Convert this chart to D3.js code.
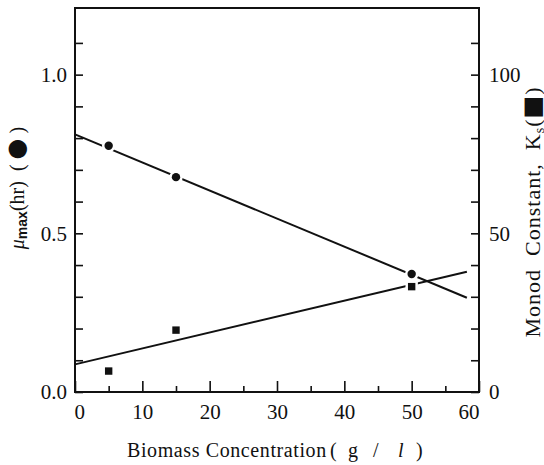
<!DOCTYPE html>
<html>
<head>
<meta charset="utf-8">
<script src="https://cdn.jsdelivr.net/npm/d3@7"></script>
<style>
  body { margin: 0; background: #fff; }
  svg text { font-family: "Liberation Serif", "Times New Roman", serif; fill: #111; }
</style>
</head>
<body>
<div id="chart"></div>
<script>

// points
var muX    = [5, 15, 50];
var muMax  = [0.776, 0.677, 0.372];
var ksX    = [5, 15, 50];
var ksVals = [6.6, 19.5, 33.2];

// straight fitted lines (end points)
var fitX  = [0, 58.2];
var muFit = [0.812, 0.297];
var ksFit = [8.7, 37.9];

// ticks
var xMajor   = [0, 10, 20, 30, 40, 50, 60];
var xMinor   = [5, 15, 25, 35, 45, 55];
var muTicks  = [0, 0.1, 0.2, 0.3, 0.4, 0.5, 0.6, 0.7, 0.8, 0.9, 1.0, 1.1];
var muLabels = ["0.0", "0.5", "1.0"];
var ksTicks  = [0, 10, 20, 30, 40, 50, 60, 70, 80, 90, 100, 110];
var ksLabels = ["0", "50", "100"];

var width = 544, height = 465;
var plotL = 75, plotR = 479, plotT = 8, plotB = 392;

var svg = d3.select("#chart").append("svg")
    .attr("width", width)
    .attr("height", height);

var x = d3.scaleLinear().domain([0, 60]).range([plotL, plotR]);
var yMu = d3.scaleLinear().domain([0, 1.21]).range([plotB, plotT]);
var yKs = d3.scaleLinear().domain([0, 121]).range([plotB, plotT]);

// left axis, ticks pointing in
svg.append("g")
    .attr("class", "axis")
    .attr("transform", "translate(" + plotL + ",0)")
    .call(d3.axisLeft(yMu)
        .tickValues(muTicks)
        .tickSizeInner(-8).tickSizeOuter(0).tickPadding(8)
        .tickFormat(function(d) {
          var s = d3.format(".1f")(d);
          return muLabels.indexOf(s) >= 0 ? s : "";
        }));

// right axis
svg.append("g")
    .attr("class", "axis")
    .attr("transform", "translate(" + plotR + ",0)")
    .call(d3.axisRight(yKs)
        .tickValues(ksTicks)
        .tickSizeInner(-8).tickSizeOuter(0).tickPadding(10)
        .tickFormat(function(d) {
          return ksLabels.indexOf(String(d)) >= 0 ? String(d) : "";
        }));

// bottom axis: major + minor ticks
svg.append("g")
    .attr("class", "axis xmaj")
    .attr("transform", "translate(0," + plotB + ")")
    .call(d3.axisBottom(x)
        .tickValues(xMajor)
        .tickSizeInner(-11).tickSizeOuter(0).tickPadding(12));

svg.append("g")
    .attr("class", "axis")
    .attr("transform", "translate(0," + plotB + ")")
    .call(d3.axisBottom(x)
        .tickValues(xMinor)
        .tickSizeInner(-6).tickSizeOuter(0)
        .tickFormat(""));

svg.selectAll(".axis").attr("font-family", "Liberation Serif");
svg.selectAll(".axis .domain").remove();
svg.selectAll(".axis line").attr("stroke", "#111").attr("stroke-width", 1.6);
svg.selectAll(".axis text")
    .style("font-size", "21px")
    .style("font-family", "'Liberation Serif', serif")
    .attr("fill", "#111");

// first and last x labels sit inside the frame ends
svg.selectAll(".xmaj .tick text")
    .attr("text-anchor", function(d, i) {
      if (i === 0) return "start";
      if (i === xMajor.length - 1) return "end";
      return "middle";
    })
    .attr("x", function(d, i) {
      if (i === 0) return -1;
      return 0;
    });

// frame
svg.append("rect")
    .attr("x", plotL)
    .attr("y", plotT)
    .attr("width", plotR - plotL)
    .attr("height", plotB - plotT)
    .attr("fill", "none")
    .attr("stroke", "#111")
    .attr("stroke-width", 2);

// fitted lines
var muLine = d3.line()
    .x(function(d, i) { return x(fitX[i]); })
    .y(function(d) { return yMu(d); });
var ksLine = d3.line()
    .x(function(d, i) { return x(fitX[i]); })
    .y(function(d) { return yKs(d); });

svg.append("path")
    .attr("d", muLine(muFit))
    .attr("fill", "none")
    .attr("stroke", "#111")
    .attr("stroke-width", 2);

svg.append("path")
    .attr("d", ksLine(ksFit))
    .attr("fill", "none")
    .attr("stroke", "#111")
    .attr("stroke-width", 2);

// markers, with white halo to break the lines like the original
svg.selectAll(".mu")
    .data(muMax)
    .enter().append("circle")
    .attr("class", "mu")
    .attr("cx", function(d, i) { return x(muX[i]); })
    .attr("cy", function(d) { return yMu(d); })
    .attr("r", 4.2)
    .attr("fill", "#111")
    .attr("stroke", "#fff")
    .attr("stroke-width", 5)
    .attr("paint-order", "stroke");

var sq = 7.4;
svg.selectAll(".ks")
    .data(ksVals)
    .enter().append("rect")
    .attr("class", "ks")
    .attr("x", function(d, i) { return x(ksX[i]) - sq / 2; })
    .attr("y", function(d) { return yKs(d) - sq / 2; })
    .attr("width", sq)
    .attr("height", sq)
    .attr("fill", "#111")
    .attr("stroke", "#fff")
    .attr("stroke-width", 5)
    .attr("paint-order", "stroke");

// x title
var xt = svg.append("text")
    .attr("x", 127)
    .attr("y", 457)
    .attr("xml:space", "preserve")
    .style("font-size", "20px")
    .style("letter-spacing", "0.6px");
xt.append("tspan").text("Biomass Concentration");
xt.append("tspan").attr("x", 330).text("(");
xt.append("tspan").attr("x", 348).text("g");
xt.append("tspan").attr("x", 373).text("/");
xt.append("tspan").attr("x", 398).style("font-style", "italic").text("l");
xt.append("tspan").attr("x", 416).text(")");

// left title
var lt = svg.append("text")
    .attr("transform", "translate(24,188) rotate(-90)")
    .attr("text-anchor", "middle")
    .attr("xml:space", "preserve")
    .style("font-size", "20px");
lt.append("tspan").style("font-style", "italic").text("\u03bc");
lt.append("tspan")
    .attr("dy", 3)
    .style("font-family", "'Liberation Sans', sans-serif")
    .style("font-weight", "bold")
    .style("font-size", "14px")
    .text("max");
lt.append("tspan").attr("dy", -3).text("(hr)  ( ");
lt.append("tspan")
    .style("font-family", "'DejaVu Sans', sans-serif")
    .style("font-size", "24px")
    .text("\u25cf");
lt.append("tspan").text(" )");

// right title
var rt = svg.append("text")
    .attr("transform", "translate(540,212) rotate(-90)")
    .attr("text-anchor", "middle")
    .attr("xml:space", "preserve")
    .style("font-size", "22px")
    .style("letter-spacing", "1px");
rt.append("tspan").text("Monod  Constant,  K");
rt.append("tspan").attr("dy", 4).style("font-size", "14px").text("s");
rt.append("tspan").attr("dy", -4).text("(");
rt.append("tspan")
    .style("font-family", "'DejaVu Sans', sans-serif")
    .style("font-size", "24px")
    .text("\u25a0");
rt.append("tspan").text(")");

</script>
</body>
</html>
